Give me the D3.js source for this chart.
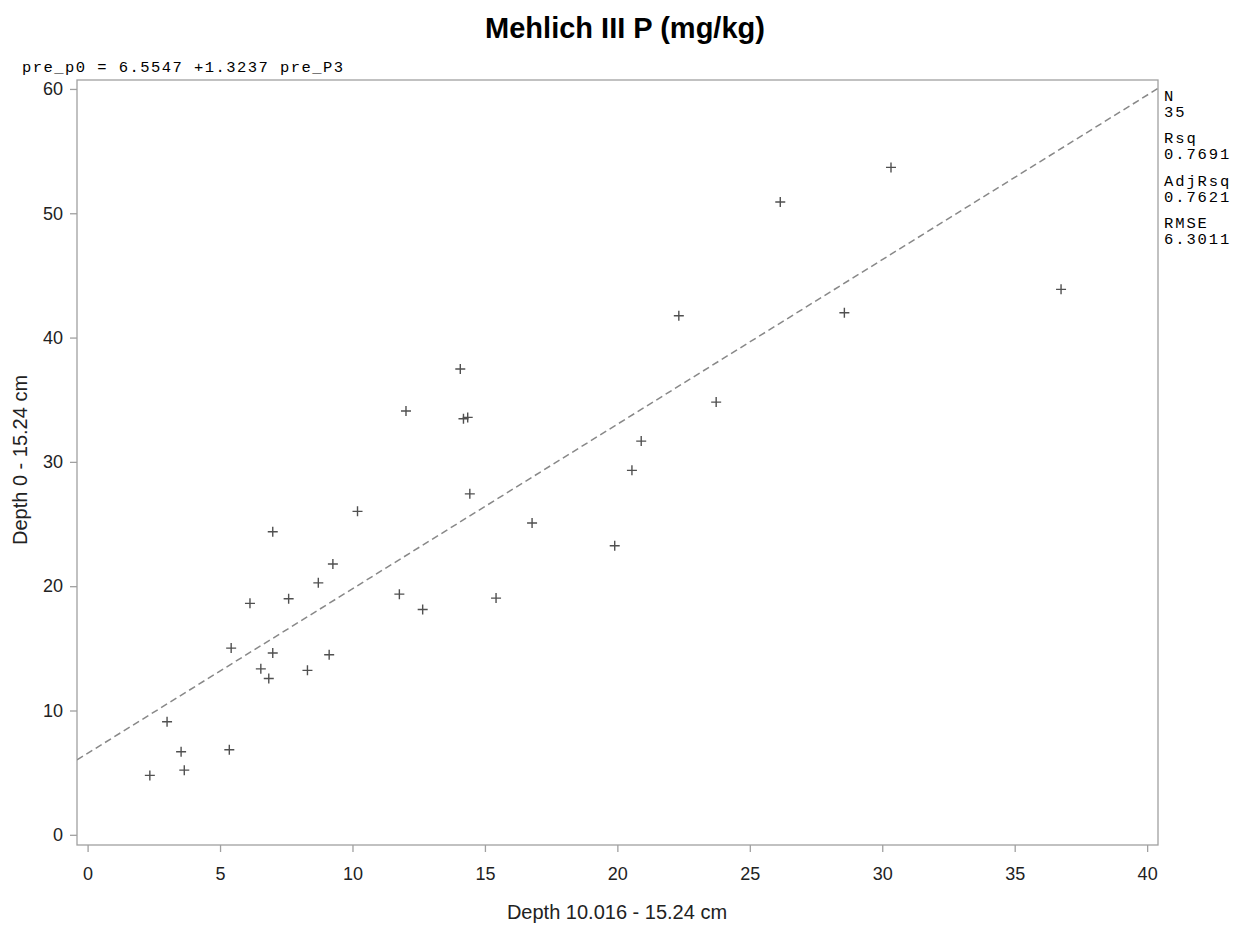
<!DOCTYPE html>
<html>
<head>
<meta charset="utf-8">
<script src="https://cdn.jsdelivr.net/npm/d3@7"></script>
<style>
  body { margin: 0; background: #fff; }
  .tick text { font-family: "Liberation Sans", Arial, sans-serif; font-size: 18px; fill: #222; }
  .mono { font-family: "Liberation Mono", "Courier New", monospace; font-size: 15.5px; fill: #000; }
</style>
</head>
<body>
<svg id="chart" width="1246" height="928"></svg>
<script>
// DATA
const xVals = [2.35, 3.0, 3.53, 3.65, 5.35, 5.42, 6.13, 6.54, 6.84, 6.99,
  6.99, 7.59, 8.30, 8.71, 9.12, 9.26, 10.19, 11.77, 12.02, 12.65,
  14.07, 14.19, 14.35, 14.43, 15.42, 16.78, 19.9, 20.55, 20.9, 22.32,
  23.73, 26.15, 28.57, 30.33, 36.75];
const yVals = [4.78, 9.09, 6.68, 5.2, 6.84, 15.02, 18.62, 13.35, 12.58, 24.38,
  14.62, 18.99, 13.23, 20.27, 14.48, 21.78, 26.02, 19.36, 34.09, 18.13,
  37.47, 33.47, 33.58, 27.43, 19.04, 25.08, 23.25, 29.32, 31.67, 41.75,
  34.81, 50.9, 42.0, 53.69, 43.88];
const intercept = 6.5547;
const slope = 1.3237;
const xTicks = [0, 5, 10, 15, 20, 25, 30, 35, 40];
const yTicks = [0, 10, 20, 30, 40, 50, 60];
const statLabels = ["N", "Rsq", "AdjRsq", "RMSE"];
const statValues = ["35", "0.7691", "0.7621", "6.3011"];

const svg = d3.select("#chart");
const plot = { left: 77, right: 1158, top: 80, bottom: 845 };

const x = d3.scaleLinear().domain([-0.4, 40.41]).range([plot.left, plot.right]);
const y = d3.scaleLinear().domain([-0.82, 60.72]).range([plot.bottom, plot.top]);

// title
svg.append("text")
  .attr("x", 625).attr("y", 38)
  .attr("text-anchor", "middle")
  .style("font-family", "'Liberation Sans', Arial, sans-serif")
  .style("font-weight", "bold")
  .style("font-size", "29px")
  .style("fill", "#000")
  .text("Mehlich III P (mg/kg)");

// equation
svg.append("text")
  .attr("class", "mono")
  .attr("x", 22).attr("y", 72)
  .attr("xml:space", "preserve")
  .attr("textLength", 321)
  .attr("lengthAdjust", "spacing")
  .text("pre_p0 = 6.5547 +1.3237 pre_P3");

// stats box on the right
const statG = svg.append("g").attr("transform", "translate(1164,0)");
statLabels.forEach((lab, i) => {
  statG.append("text").attr("class", "mono")
    .attr("y", 101 + i * 42.3)
    .style("letter-spacing", "1.9px")
    .text(lab);
  statG.append("text").attr("class", "mono")
    .attr("y", 117 + i * 42.3)
    .style("letter-spacing", "1.9px")
    .text(statValues[i]);
});

// frame
svg.append("rect")
  .attr("x", plot.left).attr("y", plot.top)
  .attr("width", plot.right - plot.left).attr("height", plot.bottom - plot.top)
  .attr("fill", "none")
  .attr("stroke", "#a0a0a0")
  .attr("stroke-width", 1.3);

// axes
const xAxisG = svg.append("g")
  .attr("transform", `translate(0,${plot.bottom})`)
  .call(d3.axisBottom(x).tickValues(xTicks).tickSize(7).tickPadding(15));
const yAxisG = svg.append("g")
  .attr("transform", `translate(${plot.left},0)`)
  .call(d3.axisLeft(y).tickValues(yTicks).tickSize(7).tickPadding(7));
[xAxisG, yAxisG].forEach(a => {
  a.select(".domain").remove();
  a.selectAll(".tick line").attr("stroke", "#a0a0a0").attr("stroke-width", 1.3);
});

// axis labels
svg.append("text")
  .attr("x", 617).attr("y", 919)
  .attr("text-anchor", "middle")
  .style("font-family", "'Liberation Sans', Arial, sans-serif")
  .style("font-size", "20px").style("fill", "#222")
  .text("Depth 10.016 - 15.24 cm");

svg.append("text")
  .attr("transform", "rotate(-90)")
  .attr("x", -460).attr("y", 27)
  .attr("text-anchor", "middle")
  .style("font-family", "'Liberation Sans', Arial, sans-serif")
  .style("font-size", "20px").style("fill", "#222")
  .text("Depth 0 - 15.24 cm");

// regression line
svg.append("clipPath").attr("id", "plotclip")
  .append("rect").attr("x", plot.left).attr("y", plot.top)
  .attr("width", plot.right - plot.left).attr("height", plot.bottom - plot.top);

const xd = x.domain();
svg.append("line")
  .attr("clip-path", "url(#plotclip)")
  .attr("x1", x(xd[0])).attr("y1", y(intercept + slope * xd[0]))
  .attr("x2", x(xd[1])).attr("y2", y(intercept + slope * xd[1]))
  .attr("stroke", "#888")
  .attr("stroke-width", 1.5)
  .attr("stroke-dasharray", "7,4");

// points
const pts = xVals.map((v, i) => ({ x: v, y: yVals[i] }));
const s = 5;
svg.append("g").selectAll("path")
  .data(pts)
  .join("path")
  .attr("d", d => {
    const cx = x(d.x), cy = y(d.y);
    return `M${cx - s},${cy}H${cx + s}M${cx},${cy - s}V${cy + s}`;
  })
  .attr("stroke", "#505050")
  .attr("stroke-width", 1.4)
  .attr("fill", "none");
</script>
</body>
</html>
